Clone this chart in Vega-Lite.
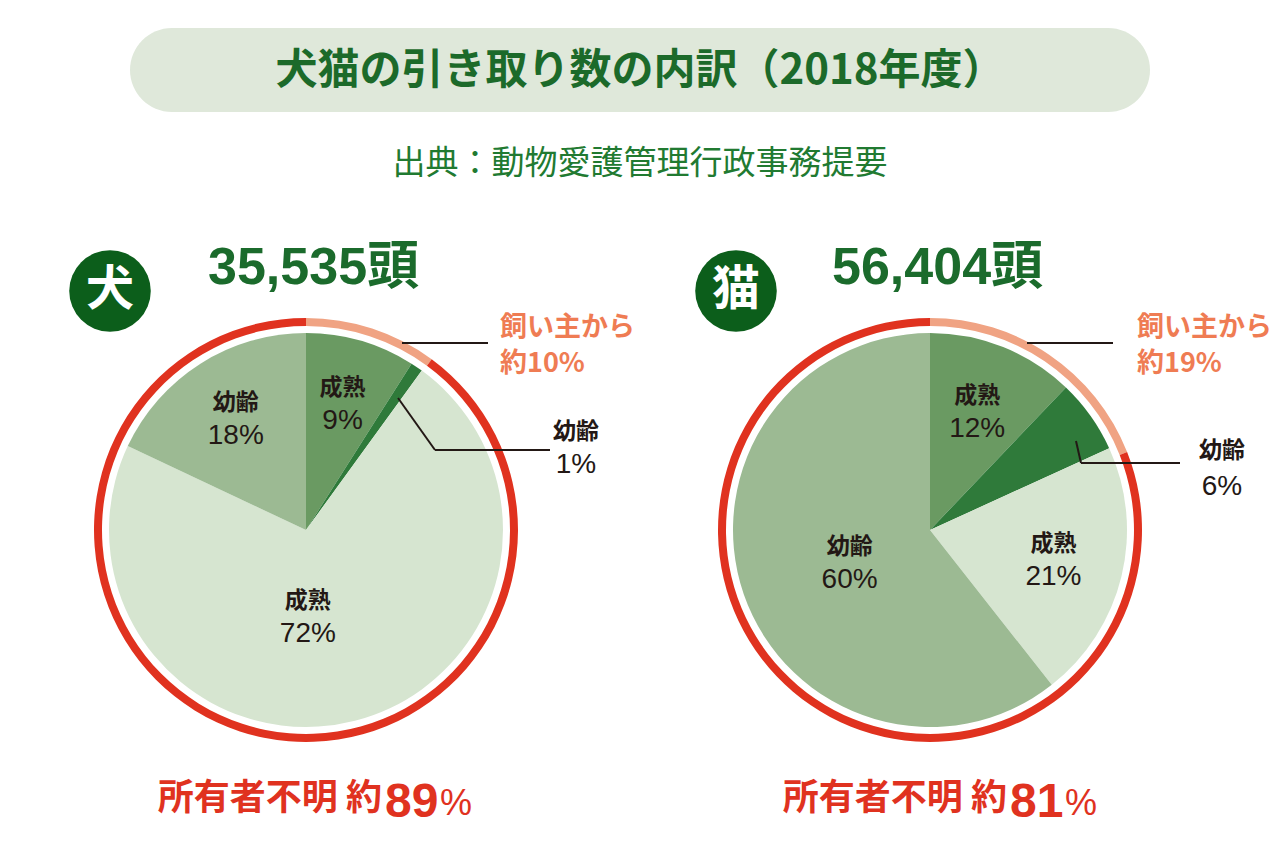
{
  "$schema": "https://vega.github.io/schema/vega-lite/v6.json",
  "width": 1280,
  "height": 844,
  "autosize": "none",
  "padding": 0,
  "background": "#ffffff",
  "config": {"view": {"stroke": null}, "font": "Noto Sans CJK JP", "axis": {"disable": true}},
  "datasets": {
    "slices": [
      {"animal": "犬", "group": "飼い主から・成熟", "age": "成熟", "value": 9, "pct": "9%", "order": 1},
      {"animal": "犬", "group": "飼い主から・幼齢", "age": "幼齢", "value": 1, "pct": "1%", "order": 2},
      {"animal": "犬", "group": "所有者不明・成熟", "age": "成熟", "value": 72, "pct": "72%", "order": 3},
      {"animal": "犬", "group": "所有者不明・幼齢", "age": "幼齢", "value": 18, "pct": "18%", "order": 4},
      {"animal": "猫", "group": "飼い主から・成熟", "age": "成熟", "value": 12, "pct": "12%", "order": 1},
      {"animal": "猫", "group": "飼い主から・幼齢", "age": "幼齢", "value": 6, "pct": "6%", "order": 2},
      {"animal": "猫", "group": "所有者不明・成熟", "age": "成熟", "value": 21, "pct": "21%", "order": 3},
      {"animal": "猫", "group": "所有者不明・幼齢", "age": "幼齢", "value": 60, "pct": "60%", "order": 4}
    ],
    "owners": [
      {"animal": "犬", "source": "飼い主から", "value": 10, "order": 1},
      {"animal": "犬", "source": "所有者不明", "value": 89, "order": 2},
      {"animal": "猫", "source": "飼い主から", "value": 19, "order": 1},
      {"animal": "猫", "source": "所有者不明", "value": 81, "order": 2}
    ],
    "notes": [
      {"key": "title", "text": "犬猫の引き取り数の内訳（2018年度）"},
      {"key": "source", "text": "出典：動物愛護管理行政事務提要"},
      {"key": "badge_dog", "text": "犬"},
      {"key": "badge_cat", "text": "猫"},
      {"key": "total_dog", "text": "35,535頭"},
      {"key": "total_cat", "text": "56,404頭"},
      {"key": "owner_dog_1", "text": "飼い主から"},
      {"key": "owner_dog_2", "text": "約10%"},
      {"key": "owner_cat_1", "text": "飼い主から"},
      {"key": "owner_cat_2", "text": "約19%"},
      {"key": "young_dog", "text": "幼齢"},
      {"key": "young_dog_pct", "text": "1%"},
      {"key": "young_cat", "text": "幼齢"},
      {"key": "young_cat_pct", "text": "6%"},
      {"key": "unknown_dog", "text": "所有者不明 約"},
      {"key": "unknown_dog_num", "text": "89"},
      {"key": "unknown_dog_pct", "text": "%"},
      {"key": "unknown_cat", "text": "所有者不明 約"},
      {"key": "unknown_cat_num", "text": "81"},
      {"key": "unknown_cat_pct", "text": "%"},
      {"key": "line", "text": ""}
    ]
  },
  "layer": [
    {
      "data": {"name": "notes"},
      "transform": [{"filter": "datum.key === 'title'"}],
      "mark": {"type": "rect", "cornerRadius": 42, "fill": "#dfe8da"},
      "encoding": {
        "x": {"datum": 130, "type": "quantitative", "scale": {"domain": [0, 1280], "range": [0, 1280], "nice": false, "zero": false}, "axis": null},
        "x2": {"datum": 1150},
        "y": {"datum": 28, "type": "quantitative", "scale": {"domain": [0, 844], "range": [0, 844], "nice": false, "zero": false}, "axis": null},
        "y2": {"datum": 112}
      }
    },
    {
      "data": {"name": "notes"},
      "transform": [{"filter": "datum.key === 'title'"}],
      "mark": {"type": "text", "fontSize": 42, "fontWeight": "bold", "color": "#1c6a2a", "align": "center", "baseline": "middle"},
      "encoding": {"x": {"datum": 640, "type": "quantitative"}, "y": {"datum": 71, "type": "quantitative"}, "text": {"field": "text"}}
    },
    {
      "data": {"name": "notes"},
      "transform": [{"filter": "datum.key === 'source'"}],
      "mark": {"type": "text", "fontSize": 33, "color": "#217a31", "align": "center", "baseline": "middle"},
      "encoding": {"x": {"datum": 640, "type": "quantitative"}, "y": {"datum": 164, "type": "quantitative"}, "text": {"field": "text"}}
    },
    {
      "data": {"name": "notes"},
      "transform": [{"filter": "datum.key === 'badge_dog'"}],
      "mark": {"type": "point", "shape": "circle", "filled": true, "size": 6650, "color": "#0c5e1b", "opacity": 1},
      "encoding": {"x": {"datum": 110, "type": "quantitative"}, "y": {"datum": 291, "type": "quantitative"}}
    },
    {
      "data": {"name": "notes"},
      "transform": [{"filter": "datum.key === 'badge_cat'"}],
      "mark": {"type": "point", "shape": "circle", "filled": true, "size": 6650, "color": "#0c5e1b", "opacity": 1},
      "encoding": {"x": {"datum": 736, "type": "quantitative"}, "y": {"datum": 291, "type": "quantitative"}}
    },
    {
      "data": {"name": "notes"},
      "transform": [{"filter": "datum.key === 'badge_dog'"}],
      "mark": {"type": "text", "fontSize": 48, "fontWeight": "bold", "color": "#ffffff", "align": "center", "baseline": "middle"},
      "encoding": {"x": {"datum": 110, "type": "quantitative"}, "y": {"datum": 291, "type": "quantitative"}, "text": {"field": "text"}}
    },
    {
      "data": {"name": "notes"},
      "transform": [{"filter": "datum.key === 'badge_cat'"}],
      "mark": {"type": "text", "fontSize": 48, "fontWeight": "bold", "color": "#ffffff", "align": "center", "baseline": "middle"},
      "encoding": {"x": {"datum": 736, "type": "quantitative"}, "y": {"datum": 291, "type": "quantitative"}, "text": {"field": "text"}}
    },
    {
      "data": {"name": "notes"},
      "transform": [{"filter": "datum.key === 'total_dog'"}],
      "mark": {"type": "text", "font": "Liberation Sans, Noto Sans CJK JP", "fontSize": 52, "fontWeight": "bold", "color": "#1b6b2c", "align": "left", "baseline": "middle"},
      "encoding": {"x": {"datum": 208, "type": "quantitative"}, "y": {"datum": 268, "type": "quantitative"}, "text": {"field": "text"}}
    },
    {
      "data": {"name": "notes"},
      "transform": [{"filter": "datum.key === 'total_cat'"}],
      "mark": {"type": "text", "font": "Liberation Sans, Noto Sans CJK JP", "fontSize": 52, "fontWeight": "bold", "color": "#1b6b2c", "align": "left", "baseline": "middle"},
      "encoding": {"x": {"datum": 832, "type": "quantitative"}, "y": {"datum": 268, "type": "quantitative"}, "text": {"field": "text"}}
    },
    {
      "data": {"name": "owners"},
      "transform": [{"filter": "datum.animal === '犬'"}],
      "mark": {"type": "arc", "outerRadius": 212, "innerRadius": 204},
      "encoding": {
        "x": {"datum": 306, "type": "quantitative"}, "y": {"datum": 530, "type": "quantitative"},
        "theta": {"field": "value", "type": "quantitative", "stack": "normalize"},
        "color": {"field": "source", "type": "nominal", "scale": {"domain": ["飼い主から・成熟", "飼い主から・幼齢", "所有者不明・成熟", "所有者不明・幼齢", "飼い主から", "所有者不明"], "range": ["#6a9a62", "#2f7a3a", "#d6e5d0", "#9cba93", "#f0a383", "#e0321f"]}, "legend": null},
        "order": {"field": "order", "type": "quantitative"}
      }
    },
    {
      "data": {"name": "owners"},
      "transform": [{"filter": "datum.animal === '猫'"}],
      "mark": {"type": "arc", "outerRadius": 212, "innerRadius": 204},
      "encoding": {
        "x": {"datum": 930, "type": "quantitative"}, "y": {"datum": 530, "type": "quantitative"},
        "theta": {"field": "value", "type": "quantitative", "stack": "normalize"},
        "color": {"field": "source", "type": "nominal", "legend": null},
        "order": {"field": "order", "type": "quantitative"}
      }
    },
    {
      "data": {"name": "slices"},
      "transform": [{"filter": "datum.animal === '犬'"}],
      "mark": {"type": "arc", "outerRadius": 197},
      "encoding": {
        "x": {"datum": 306, "type": "quantitative"}, "y": {"datum": 530, "type": "quantitative"},
        "theta": {"field": "value", "type": "quantitative", "stack": "normalize"},
        "color": {"field": "group", "type": "nominal", "legend": null},
        "order": {"field": "order", "type": "quantitative"}
      }
    },
    {
      "data": {"name": "slices"},
      "transform": [{"filter": "datum.animal === '猫'"}],
      "mark": {"type": "arc", "outerRadius": 197},
      "encoding": {
        "x": {"datum": 930, "type": "quantitative"}, "y": {"datum": 530, "type": "quantitative"},
        "theta": {"field": "value", "type": "quantitative", "stack": "normalize"},
        "color": {"field": "group", "type": "nominal", "legend": null},
        "order": {"field": "order", "type": "quantitative"}
      }
    },
    {
      "data": {"name": "slices"},
      "transform": [{"filter": "datum.animal === '犬'"}],
      "mark": {"type": "text", "radius": 131, "dy": -16, "fontSize": 23, "fontWeight": "bold", "color": "#231815", "align": "center", "baseline": "middle"},
      "encoding": {
        "x": {"datum": 306, "type": "quantitative"}, "y": {"datum": 530, "type": "quantitative"},
        "theta": {"field": "value", "type": "quantitative", "stack": "normalize"},
        "detail": {"field": "group"},
        "order": {"field": "order", "type": "quantitative"},
        "text": {"condition": {"test": "datum.value >= 9 && datum.value < 50", "field": "age"}, "value": ""}
      }
    },
    {
      "data": {"name": "slices"},
      "transform": [{"filter": "datum.animal === '犬'"}],
      "mark": {"type": "text", "radius": 131, "dy": 17, "font": "Liberation Sans", "fontSize": 28, "color": "#231815", "align": "center", "baseline": "middle"},
      "encoding": {
        "x": {"datum": 306, "type": "quantitative"}, "y": {"datum": 530, "type": "quantitative"},
        "theta": {"field": "value", "type": "quantitative", "stack": "normalize"},
        "detail": {"field": "group"},
        "order": {"field": "order", "type": "quantitative"},
        "text": {"condition": {"test": "datum.value >= 9 && datum.value < 50", "field": "pct"}, "value": ""}
      }
    },
    {
      "data": {"name": "slices"},
      "transform": [{"filter": "datum.animal === '犬'"}],
      "mark": {"type": "text", "radius": 87, "thetaOffset": 0.23, "dy": -16, "fontSize": 23, "fontWeight": "bold", "color": "#231815", "align": "center", "baseline": "middle"},
      "encoding": {
        "x": {"datum": 306, "type": "quantitative"}, "y": {"datum": 530, "type": "quantitative"},
        "theta": {"field": "value", "type": "quantitative", "stack": "normalize"},
        "detail": {"field": "group"},
        "order": {"field": "order", "type": "quantitative"},
        "text": {"condition": {"test": "datum.value >= 50", "field": "age"}, "value": ""}
      }
    },
    {
      "data": {"name": "slices"},
      "transform": [{"filter": "datum.animal === '犬'"}],
      "mark": {"type": "text", "radius": 87, "thetaOffset": 0.23, "dy": 17, "font": "Liberation Sans", "fontSize": 28, "color": "#231815", "align": "center", "baseline": "middle"},
      "encoding": {
        "x": {"datum": 306, "type": "quantitative"}, "y": {"datum": 530, "type": "quantitative"},
        "theta": {"field": "value", "type": "quantitative", "stack": "normalize"},
        "detail": {"field": "group"},
        "order": {"field": "order", "type": "quantitative"},
        "text": {"condition": {"test": "datum.value >= 50", "field": "pct"}, "value": ""}
      }
    },
    {
      "data": {"name": "slices"},
      "transform": [{"filter": "datum.animal === '猫'"}],
      "mark": {"type": "text", "radius": 127, "dy": -16, "fontSize": 23, "fontWeight": "bold", "color": "#231815", "align": "center", "baseline": "middle"},
      "encoding": {
        "x": {"datum": 930, "type": "quantitative"}, "y": {"datum": 530, "type": "quantitative"},
        "theta": {"field": "value", "type": "quantitative", "stack": "normalize"},
        "detail": {"field": "group"},
        "order": {"field": "order", "type": "quantitative"},
        "text": {"condition": {"test": "datum.value >= 9 && datum.value < 50", "field": "age"}, "value": ""}
      }
    },
    {
      "data": {"name": "slices"},
      "transform": [{"filter": "datum.animal === '猫'"}],
      "mark": {"type": "text", "radius": 127, "dy": 17, "font": "Liberation Sans", "fontSize": 28, "color": "#231815", "align": "center", "baseline": "middle"},
      "encoding": {
        "x": {"datum": 930, "type": "quantitative"}, "y": {"datum": 530, "type": "quantitative"},
        "theta": {"field": "value", "type": "quantitative", "stack": "normalize"},
        "detail": {"field": "group"},
        "order": {"field": "order", "type": "quantitative"},
        "text": {"condition": {"test": "datum.value >= 9 && datum.value < 50", "field": "pct"}, "value": ""}
      }
    },
    {
      "data": {"name": "slices"},
      "transform": [{"filter": "datum.animal === '猫'"}],
      "mark": {"type": "text", "radius": 87, "thetaOffset": -0.06, "dy": -16, "fontSize": 23, "fontWeight": "bold", "color": "#231815", "align": "center", "baseline": "middle"},
      "encoding": {
        "x": {"datum": 930, "type": "quantitative"}, "y": {"datum": 530, "type": "quantitative"},
        "theta": {"field": "value", "type": "quantitative", "stack": "normalize"},
        "detail": {"field": "group"},
        "order": {"field": "order", "type": "quantitative"},
        "text": {"condition": {"test": "datum.value >= 50", "field": "age"}, "value": ""}
      }
    },
    {
      "data": {"name": "slices"},
      "transform": [{"filter": "datum.animal === '猫'"}],
      "mark": {"type": "text", "radius": 87, "thetaOffset": -0.06, "dy": 17, "font": "Liberation Sans", "fontSize": 28, "color": "#231815", "align": "center", "baseline": "middle"},
      "encoding": {
        "x": {"datum": 930, "type": "quantitative"}, "y": {"datum": 530, "type": "quantitative"},
        "theta": {"field": "value", "type": "quantitative", "stack": "normalize"},
        "detail": {"field": "group"},
        "order": {"field": "order", "type": "quantitative"},
        "text": {"condition": {"test": "datum.value >= 50", "field": "pct"}, "value": ""}
      }
    },
    {
      "data": {"name": "notes"},
      "transform": [{"filter": "datum.key === 'line'"}],
      "mark": {"type": "rule", "color": "#231815", "strokeWidth": 2},
      "encoding": {"x": {"datum": 402, "type": "quantitative"}, "x2": {"datum": 488}, "y": {"datum": 343, "type": "quantitative"}, "y2": {"datum": 343}}
    },
    {
      "data": {"name": "notes"},
      "transform": [{"filter": "datum.key === 'line'"}],
      "mark": {"type": "rule", "color": "#231815", "strokeWidth": 2},
      "encoding": {"x": {"datum": 398, "type": "quantitative"}, "x2": {"datum": 435}, "y": {"datum": 398, "type": "quantitative"}, "y2": {"datum": 450}}
    },
    {
      "data": {"name": "notes"},
      "transform": [{"filter": "datum.key === 'line'"}],
      "mark": {"type": "rule", "color": "#231815", "strokeWidth": 2},
      "encoding": {"x": {"datum": 435, "type": "quantitative"}, "x2": {"datum": 550}, "y": {"datum": 450, "type": "quantitative"}, "y2": {"datum": 450}}
    },
    {
      "data": {"name": "notes"},
      "transform": [{"filter": "datum.key === 'line'"}],
      "mark": {"type": "rule", "color": "#231815", "strokeWidth": 2},
      "encoding": {"x": {"datum": 1027, "type": "quantitative"}, "x2": {"datum": 1113}, "y": {"datum": 343, "type": "quantitative"}, "y2": {"datum": 343}}
    },
    {
      "data": {"name": "notes"},
      "transform": [{"filter": "datum.key === 'line'"}],
      "mark": {"type": "rule", "color": "#231815", "strokeWidth": 2},
      "encoding": {"x": {"datum": 1076, "type": "quantitative"}, "x2": {"datum": 1081}, "y": {"datum": 441, "type": "quantitative"}, "y2": {"datum": 463}}
    },
    {
      "data": {"name": "notes"},
      "transform": [{"filter": "datum.key === 'line'"}],
      "mark": {"type": "rule", "color": "#231815", "strokeWidth": 2},
      "encoding": {"x": {"datum": 1081, "type": "quantitative"}, "x2": {"datum": 1180}, "y": {"datum": 463, "type": "quantitative"}, "y2": {"datum": 463}}
    },
    {
      "data": {"name": "notes"},
      "transform": [{"filter": "datum.key === 'owner_dog_1'"}],
      "mark": {"type": "text", "fontSize": 27, "fontWeight": "bold", "color": "#ef7c53", "align": "left", "baseline": "middle"},
      "encoding": {"x": {"datum": 500, "type": "quantitative"}, "y": {"datum": 328, "type": "quantitative"}, "text": {"field": "text"}}
    },
    {
      "data": {"name": "notes"},
      "transform": [{"filter": "datum.key === 'owner_dog_2'"}],
      "mark": {"type": "text", "fontSize": 27, "fontWeight": "bold", "color": "#ef7c53", "align": "left", "baseline": "middle"},
      "encoding": {"x": {"datum": 500, "type": "quantitative"}, "y": {"datum": 364, "type": "quantitative"}, "text": {"field": "text"}}
    },
    {
      "data": {"name": "notes"},
      "transform": [{"filter": "datum.key === 'owner_cat_1'"}],
      "mark": {"type": "text", "fontSize": 27, "fontWeight": "bold", "color": "#ef7c53", "align": "left", "baseline": "middle"},
      "encoding": {"x": {"datum": 1137, "type": "quantitative"}, "y": {"datum": 328, "type": "quantitative"}, "text": {"field": "text"}}
    },
    {
      "data": {"name": "notes"},
      "transform": [{"filter": "datum.key === 'owner_cat_2'"}],
      "mark": {"type": "text", "fontSize": 27, "fontWeight": "bold", "color": "#ef7c53", "align": "left", "baseline": "middle"},
      "encoding": {"x": {"datum": 1137, "type": "quantitative"}, "y": {"datum": 364, "type": "quantitative"}, "text": {"field": "text"}}
    },
    {
      "data": {"name": "notes"},
      "transform": [{"filter": "datum.key === 'young_dog'"}],
      "mark": {"type": "text", "fontSize": 23, "fontWeight": "bold", "color": "#231815", "align": "center", "baseline": "middle"},
      "encoding": {"x": {"datum": 576, "type": "quantitative"}, "y": {"datum": 432, "type": "quantitative"}, "text": {"field": "text"}}
    },
    {
      "data": {"name": "notes"},
      "transform": [{"filter": "datum.key === 'young_dog_pct'"}],
      "mark": {"type": "text", "font": "Liberation Sans", "fontSize": 28, "color": "#231815", "align": "center", "baseline": "middle"},
      "encoding": {"x": {"datum": 576, "type": "quantitative"}, "y": {"datum": 465, "type": "quantitative"}, "text": {"field": "text"}}
    },
    {
      "data": {"name": "notes"},
      "transform": [{"filter": "datum.key === 'young_cat'"}],
      "mark": {"type": "text", "fontSize": 23, "fontWeight": "bold", "color": "#231815", "align": "center", "baseline": "middle"},
      "encoding": {"x": {"datum": 1222, "type": "quantitative"}, "y": {"datum": 451, "type": "quantitative"}, "text": {"field": "text"}}
    },
    {
      "data": {"name": "notes"},
      "transform": [{"filter": "datum.key === 'young_cat_pct'"}],
      "mark": {"type": "text", "font": "Liberation Sans", "fontSize": 28, "color": "#231815", "align": "center", "baseline": "middle"},
      "encoding": {"x": {"datum": 1222, "type": "quantitative"}, "y": {"datum": 487, "type": "quantitative"}, "text": {"field": "text"}}
    },
    {
      "data": {"name": "notes"},
      "transform": [{"filter": "datum.key === 'unknown_dog'"}],
      "mark": {"type": "text", "fontSize": 36, "fontWeight": "bold", "color": "#e0321f", "align": "right", "baseline": "middle"},
      "encoding": {"x": {"datum": 382, "type": "quantitative"}, "y": {"datum": 799, "type": "quantitative"}, "text": {"field": "text"}}
    },
    {
      "data": {"name": "notes"},
      "transform": [{"filter": "datum.key === 'unknown_dog_num'"}],
      "mark": {"type": "text", "font": "Liberation Sans", "fontSize": 48, "fontWeight": "bold", "color": "#e0321f", "align": "left", "baseline": "alphabetic"},
      "encoding": {"x": {"datum": 385, "type": "quantitative"}, "y": {"datum": 817, "type": "quantitative"}, "text": {"field": "text"}}
    },
    {
      "data": {"name": "notes"},
      "transform": [{"filter": "datum.key === 'unknown_dog_pct'"}],
      "mark": {"type": "text", "font": "Liberation Sans", "fontSize": 36, "color": "#e0321f", "align": "left", "baseline": "alphabetic"},
      "encoding": {"x": {"datum": 440, "type": "quantitative"}, "y": {"datum": 815, "type": "quantitative"}, "text": {"field": "text"}}
    },
    {
      "data": {"name": "notes"},
      "transform": [{"filter": "datum.key === 'unknown_cat'"}],
      "mark": {"type": "text", "fontSize": 36, "fontWeight": "bold", "color": "#e0321f", "align": "right", "baseline": "middle"},
      "encoding": {"x": {"datum": 1007, "type": "quantitative"}, "y": {"datum": 799, "type": "quantitative"}, "text": {"field": "text"}}
    },
    {
      "data": {"name": "notes"},
      "transform": [{"filter": "datum.key === 'unknown_cat_num'"}],
      "mark": {"type": "text", "font": "Liberation Sans", "fontSize": 48, "fontWeight": "bold", "color": "#e0321f", "align": "left", "baseline": "alphabetic"},
      "encoding": {"x": {"datum": 1010, "type": "quantitative"}, "y": {"datum": 817, "type": "quantitative"}, "text": {"field": "text"}}
    },
    {
      "data": {"name": "notes"},
      "transform": [{"filter": "datum.key === 'unknown_cat_pct'"}],
      "mark": {"type": "text", "font": "Liberation Sans", "fontSize": 36, "color": "#e0321f", "align": "left", "baseline": "alphabetic"},
      "encoding": {"x": {"datum": 1065, "type": "quantitative"}, "y": {"datum": 815, "type": "quantitative"}, "text": {"field": "text"}}
    }
  ]
}
